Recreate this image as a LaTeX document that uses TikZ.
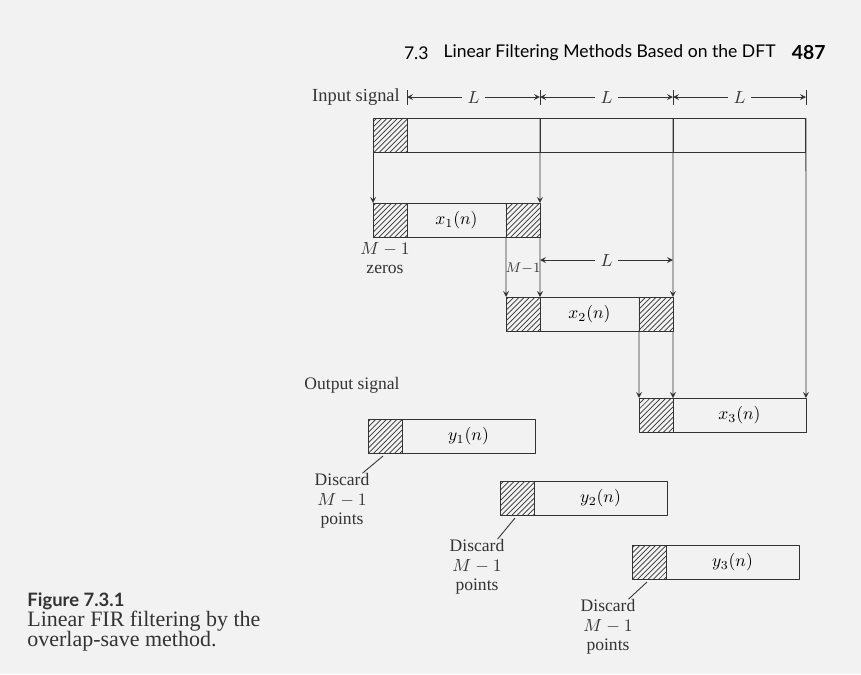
\documentclass[tikz,border=0pt]{standalone}
\usepackage{fontspec}
\setmainfont{Liberation Serif}
\newfontfamily\headfont{Lato}
\usetikzlibrary{patterns,positioning}
\definecolor{paper}{gray}{0.95}
\definecolor{ink}{gray}{0.2}
\begin{document}
\begin{tikzpicture}[x=0.02cm,y=-0.02cm,>=stealth,line join=round,line width=0.5pt,draw=ink,
    font=\fontsize{10}{11.2}\selectfont,
    seg/.style={draw=ink,inner sep=0pt,outer sep=0pt,minimum height=0.68cm,anchor=north west},
    zero/.style={seg,pattern=north east lines,pattern color=ink,minimum width=0.68cm},
    lbl/.style={inner sep=1pt,text=ink,align=center}]
  \fill[paper] (0,0) rectangle (861,674);
  \useasboundingbox (0,0) rectangle (861,674);
  % page header
  \node[anchor=east,inner sep=0pt] (page) at (826,53) {\headfont\bfseries\fontsize{11}{12}\selectfont 487};
  \node[anchor=east,inner sep=0pt] (title) at (776,53) {\headfont\fontsize{10}{12}\selectfont Linear Filtering Methods Based on the DFT};
  \node[anchor=east,inner sep=0pt] (sec) at (429,53) {\headfont\fontsize{10}{12}\selectfont 7.3};
  % input signal
  \node[lbl,anchor=east,font=\fontsize{10.5}{11.2}\selectfont] (insig) at (402,97) {Input signal};
  \node[zero] (in0) at (373,118) {};
  \node[seg,minimum width=2.66cm,right=0pt of in0] (in1) {};
  \node[seg,minimum width=2.66cm,right=0pt of in1] (in2) {};
  \node[seg,minimum width=2.66cm,right=0pt of in2] (in3) {};
  \foreach \x in {407,540,673,806}
    \draw (\x,90) -- (\x,105);
  \coordinate (t0) at (407,97);
  \coordinate (t1) at (540,97);
  \coordinate (t2) at (673,97);
  \coordinate (t3) at (806,97);
  \draw[<->] (t0) -- node[lbl,fill=paper,inner sep=3pt]{$L$} (t1);
  \draw[<->] (t1) -- node[lbl,fill=paper,inner sep=3pt]{$L$} (t2);
  \draw[<->] (t2) -- node[lbl,fill=paper,inner sep=3pt]{$L$} (t3);
  % input blocks
  \node[zero] (x1a) at (373,203) {};
  \node[seg,minimum width=1.98cm,right=0pt of x1a] (x1) {$x_1(n)$};
  \node[zero,right=0pt of x1] (x1b) {};
  \node[zero] (x2a) at (506,297) {};
  \node[seg,minimum width=1.98cm,right=0pt of x2a] (x2) {$x_2(n)$};
  \node[zero,right=0pt of x2] (x2b) {};
  \node[zero] (x3a) at (639,398) {};
  \node[seg,minimum width=2.66cm,right=0pt of x3a] (x3) {$x_3(n)$};
  \node[lbl] (zeros) at (385,258) {$M-1$\\zeros};
  \node[lbl,inner sep=0pt,font=\fontsize{8.5}{9}\selectfont] (gap) at (523,268) {$M{-}1$};
  \coordinate (m0) at (540,260);
  \coordinate (m1) at (673,260);
  \draw[<->] (m0) -- node[lbl,fill=paper,inner sep=3pt]{$L$} (m1);
  % overlap arrows
  \draw[->] (in0.south west) -- (x1a.north west);
  \draw[->] (in1.north east) -- (x1b.north east);
  \draw[->] (in2.north east) -- (x2b.north east);
  \draw[->] (in3.north east) -- (x3.north east);
  \draw[->] (x1b.south west) -- (x2a.north west);
  \draw[->] (x1b.south east) -- (x2a.north east);
  \draw[->] (x2b.south west) -- (x3a.north west);
  \draw[->] (x2b.south east) -- (x3a.north east);
  % output blocks
  \node[lbl] (outsig) at (352,385) {Output signal};
  \node[zero] (y1a) at (368,419) {};
  \node[seg,minimum width=2.66cm,right=0pt of y1a] (y1) {$y_1(n)$};
  \node[zero] (y2a) at (500,481) {};
  \node[seg,minimum width=2.66cm,right=0pt of y2a] (y2) {$y_2(n)$};
  \node[zero] (y3a) at (632,545) {};
  \node[seg,minimum width=2.66cm,right=0pt of y3a] (y3) {$y_3(n)$};
  \node[lbl] (d1) at (342,501) {Discard\\$M-1$\\points};
  \node[lbl] (d2) at (477,567) {Discard\\$M-1$\\points};
  \node[lbl] (d3) at (608,627) {Discard\\$M-1$\\points};
  \draw ([shift={(-2,3)}]y1a.south) -- ([shift={(-9,2)}]d1.north east);
  \draw ([shift={(-2,3)}]y2a.south) -- ([shift={(-9,2)}]d2.north east);
  \draw ([shift={(-2,3)}]y3a.south) -- ([shift={(-9,2)}]d3.north east);
  % caption
  \node[anchor=north west,align=left,inner sep=0pt,text=ink,font=\fontsize{12.5}{11.6}\selectfont] (cap) at (27,592)
    {{\headfont\bfseries\fontsize{10.5}{11.6}\selectfont Figure 7.3.1}\\Linear FIR filtering by the\\overlap-save method.};
\end{tikzpicture}
\end{document}
